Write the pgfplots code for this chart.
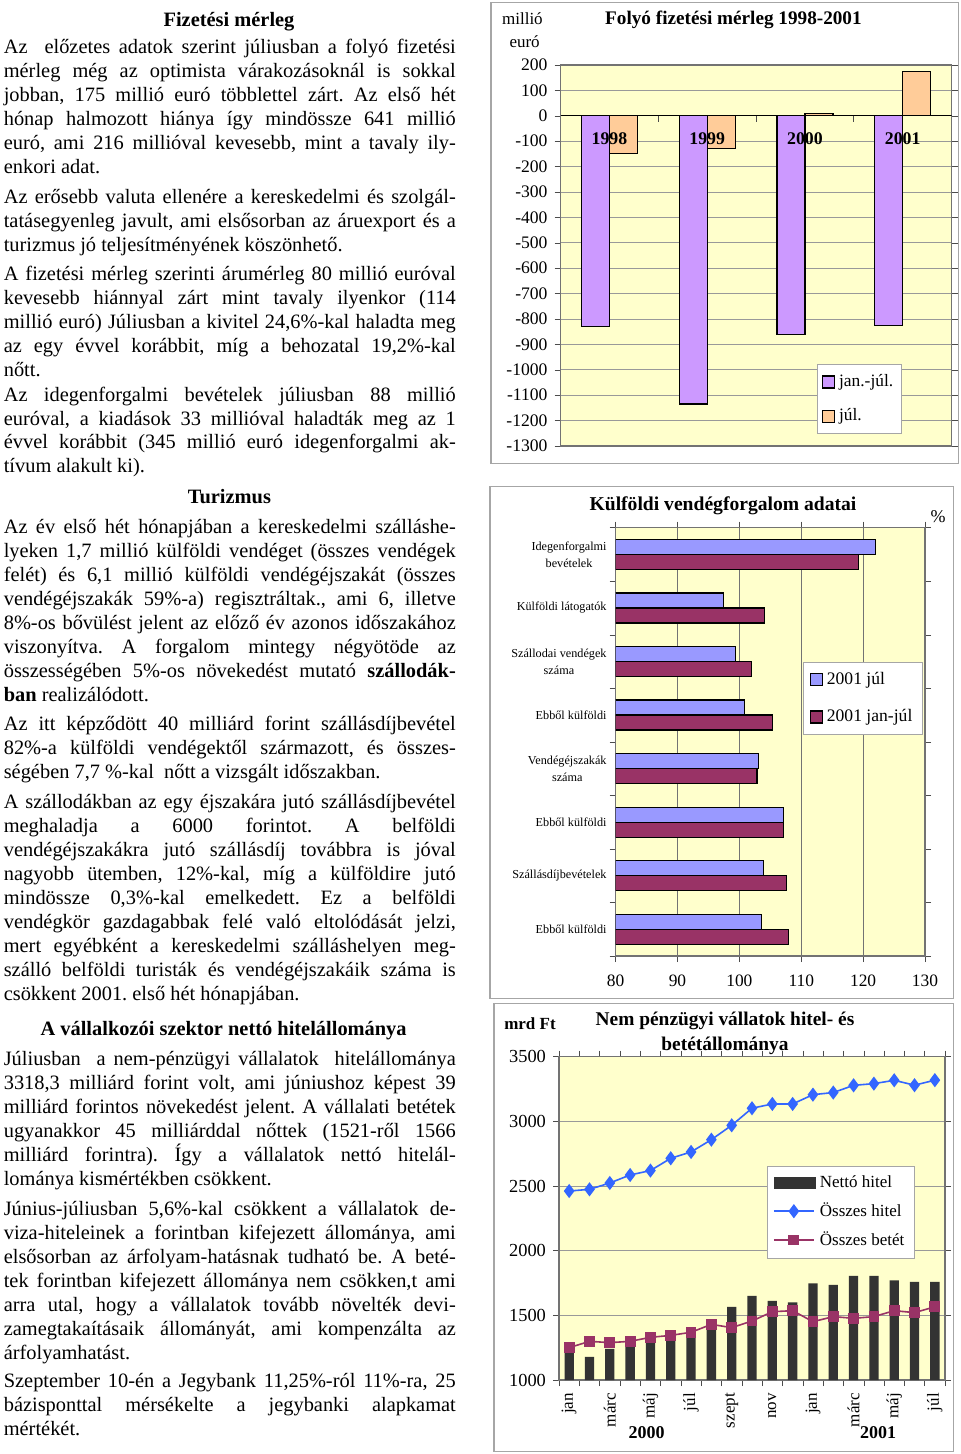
\documentclass[border=0pt]{standalone}
\usepackage{fontspec}
\setmainfont{Liberation Serif}
\usepackage{pgfplots}
\pgfplotsset{compat=1.18}
\definecolor{bgy}{HTML}{FFFFCC}
\definecolor{lila}{HTML}{CC99FF}
\definecolor{narancs}{HTML}{FFCC99}
\definecolor{kek}{HTML}{9999FF}
\definecolor{bordo}{HTML}{993366}
\definecolor{vkek}{HTML}{3366FF}
\definecolor{sotet}{HTML}{333333}
\definecolor{keret}{HTML}{A6A6A6}
\pgfplotsset{
  sqleg/.style={legend image code/.code={\draw[##1] (0pt,-3pt) rectangle (6pt,3pt);}},
  netleg/.style={legend image code/.code={\fill[sotet] (0pt,-3pt) rectangle (21pt,3pt);}},
  lineleg/.style={legend image code/.code={\draw[mark repeat=2,mark phase=2,##1] plot coordinates {(0pt,0pt) (10pt,0pt) (20pt,0pt)};}},
}
\newcommand{\JL}[2]{\node[anchor=base west,inner sep=0pt] at (1.7pt,-#1pt) {\makebox[226pt][s]{#2}};}
\newcommand{\LL}[2]{\node[anchor=base west,inner sep=0pt] at (1.7pt,-#1pt) {#2};}
\newcommand{\HD}[3]{\node[anchor=base,inner sep=0pt,font=\bfseries\fontsize{10.2}{12}\selectfont] at (#1pt,-#2pt) {#3};}
\hbadness=10000
\frenchspacing
\begin{document}
\begin{tikzpicture}[font=\fontsize{10.2}{12}\selectfont]
\path[use as bounding box, fill=white] (0,0) rectangle (480pt,-727pt);

% ---------------- left column text ----------------
\HD{114.5}{13.2}{Fizetési mérleg}
\JL{27}{Az~ előzetes adatok szerint júliusban a folyó fizetési}
\JL{39}{mérleg még az optimista várakozásoknál is sokkal}
\JL{51}{jobban, 175 millió euró többlettel zárt. Az első hét}
\JL{63}{hónap halmozott hiánya így mindössze 641 millió}
\JL{75}{euró, ami 216 millióval kevesebb, mint a tavaly ily-}
\LL{87}{enkori adat.}
\JL{102}{Az erősebb valuta ellenére a kereskedelmi és szolgál-}
\JL{114}{tatásegyenleg javult, ami elsősorban az áruexport és a}
\LL{126}{turizmus jó teljesítményének köszönhető.}
\JL{140.5}{A fizetési mérleg szerinti árumérleg 80 millió euróval}
\JL{152.5}{kevesebb hiánnyal zárt mint tavaly ilyenkor (114}
\JL{164.5}{millió euró) Júliusban a kivitel 24,6\%-kal haladta meg}
\JL{176.5}{az egy évvel korábbit, míg a behozatal 19,2\%-kal}
\LL{188.5}{nőtt.}
\JL{200.5}{Az idegenforgalmi bevételek júliusban 88 millió}
\JL{212.5}{euróval, a kiadások 33 millióval haladták meg az 1}
\JL{224.5}{évvel korábbit (345 millió euró idegenforgalmi ak-}
\LL{236.5}{tívum alakult ki).}
\HD{114.7}{251.5}{Turizmus}
\JL{266.5}{Az év első hét hónapjában a kereskedelmi szálláshe-}
\JL{278.5}{lyeken 1,7 millió külföldi vendéget (összes vendégek}
\JL{290.5}{felét) és 6,1 millió külföldi vendégéjszakát (összes}
\JL{302.5}{vendégéjszakák 59\%-a) regisztráltak., ami 6, illetve}
\JL{314.5}{8\%-os bővülést jelent az előző év azonos időszakához}
\JL{326.5}{viszonyítva. A forgalom mintegy négyötöde az}
\JL{338.5}{összességében 5\%-os növekedést mutató \textbf{szállodák-}}
\LL{350.5}{\textbf{ban} realizálódott.}
\JL{365}{Az itt képződött 40 milliárd forint szállásdíjbevétel}
\JL{377}{82\%-a külföldi vendégektől származott, és összes-}
\LL{389}{ségében 7,7 \%-kal~ nőtt a vizsgált időszakban.}
\JL{404}{A szállodákban az egy éjszakára jutó szállásdíjbevétel}
\JL{416}{meghaladja a 6000 forintot. A belföldi}
\JL{428}{vendégéjszakákra jutó szállásdíj továbbra is jóval}
\JL{440}{nagyobb ütemben, 12\%-kal, míg a külföldire jutó}
\JL{452}{mindössze 0,3\%-kal emelkedett. Ez a belföldi}
\JL{464}{vendégkör gazdagabbak felé való eltolódását jelzi,}
\JL{476}{mert egyébként a kereskedelmi szálláshelyen meg-}
\JL{488}{szálló belföldi turisták és vendégéjszakáik száma is}
\LL{500}{csökkent 2001. első hét hónapjában.}
\HD{111.8}{517.5}{A vállalkozói szektor nettó hitelállománya}
\JL{532.5}{Júliusban~ a nem-pénzügyi vállalatok~ hitelállománya}
\JL{544.5}{3318,3 milliárd forint volt, ami júniushoz képest 39}
\JL{556.5}{milliárd forintos növekedést jelent. A vállalati betétek}
\JL{568.5}{ugyanakkor 45 milliárddal nőttek (1521-ről 1566}
\JL{580.5}{milliárd forintra). Így a vállalatok nettó hitelál-}
\LL{592.5}{lománya kismértékben csökkent.}
\JL{607.5}{Június-júliusban 5,6\%-kal csökkent a vállalatok de-}
\JL{619.5}{viza-hiteleinek a forintban kifejezett állománya, ami}
\JL{631.5}{elsősorban az árfolyam-hatásnak tudható be. A beté-}
\JL{643.5}{tek forintban kifejezett állománya nem csökken,t ami}
\JL{655.5}{arra utal, hogy a vállalatok tovább növelték devi-}
\JL{667.5}{zamegtakaításaik állományát, ami kompenzálta az}
\LL{679.5}{árfolyamhatást.}
\JL{693.5}{Szeptember 10-én a Jegybank 11,25\%-ról 11\%-ra, 25}
\JL{705.5}{bázisponttal mérsékelte a jegybanki alapkamat}
\LL{717.5}{mértékét.}

% ---------------- chart 1 ----------------
\draw[keret, line width=0.8pt] (245.5pt,-1.3pt) rectangle (479.2pt,-231.7pt);
\node[font=\bfseries\fontsize{9.6}{11}\selectfont] at (366.7pt,-10pt) {Folyó fizetési mérleg 1998-2001};
\node[font=\fontsize{8.5}{10}\selectfont] at (261.2pt,-9.2pt) {millió};
\node[font=\fontsize{8.5}{10}\selectfont] at (262.3pt,-20.8pt) {euró};
\begin{axis}[
  at={(280.3pt,-223pt)}, anchor=south west,
  scale only axis, width=195.5pt, height=190.5pt,
  xmin=-0.5, xmax=3.5, ymin=-1300, ymax=200,
  axis background/.style={fill=bgy},
  axis line style={black!55, line width=0.6pt},
  xtick=\empty,
  ytick={-1300,-1200,...,200},
  yticklabels={-1300,-1200,-1100,-1000,-900,-800,-700,-600,-500,-400,-300,-200,-100,0,100,200},
  ymajorgrids, grid style={black!40, line width=0.4pt},
  tick align=outside, major tick length=3pt, tick style={black!70},
  yticklabel style={font=\fontsize{8.8}{10}\selectfont},
  ybar=0pt, bar width=14pt,
  legend style={at={(0.657,0.215)}, anchor=north west, draw=keret, fill=white,
    font=\fontsize{8.7}{10}\selectfont, inner xsep=2pt, inner ysep=3pt, row sep=5.5pt},
  legend cell align=left,
  sqleg,
]
\addplot[fill=lila, draw=black, line width=0.6pt] coordinates {(0,-830) (1,-1135) (2,-860) (3,-825)};
\addplot[fill=narancs, draw=black, line width=0.6pt] coordinates {(0,-150) (1,-130) (2,10) (3,175)};
\legend{jan.-júl., júl.}
\draw[black, line width=0.6pt] (axis cs:-0.5,0) -- (axis cs:3.5,0);
\draw[black!70] (axis cs:0.5,0) -- ++(0pt,-3pt);
\draw[black!70] (axis cs:1.5,0) -- ++(0pt,-3pt);
\draw[black!70] (axis cs:2.5,0) -- ++(0pt,-3pt);
\node[font=\bfseries\fontsize{8.9}{10}\selectfont] at (axis cs:0,-91) {1998};
\node[font=\bfseries\fontsize{8.9}{10}\selectfont] at (axis cs:1,-91) {1999};
\node[font=\bfseries\fontsize{8.9}{10}\selectfont] at (axis cs:2,-91) {2000};
\node[font=\bfseries\fontsize{8.9}{10}\selectfont] at (axis cs:3,-91) {2001};
\end{axis}

% ---------------- chart 2 ----------------
\draw[keret, line width=0.8pt] (245pt,-243.3pt) rectangle (476.7pt,-499.2pt);
\node[font=\bfseries\fontsize{9.8}{11}\selectfont] at (361.5pt,-253pt) {Külföldi vendégforgalom adatai};
\node[font=\fontsize{9}{10}\selectfont] at (469pt,-258.5pt) {\%};
\begin{axis}[
  at={(307.8pt,-478pt)}, anchor=south west,
  scale only axis, width=154.7pt, height=214.2pt,
  xmin=80, xmax=130, ymin=-0.5, ymax=7.5,
  axis background/.style={fill=bgy},
  axis line style={black!55, line width=0.6pt},
  xtick={80,90,...,130}, xticklabels={80,90,100,110,120,130},
  xmajorgrids, grid style={black!55, line width=0.5pt},
  ytick={-0.5,0.5,...,7.5}, y tick label as interval,
  yticklabels={Ebből külföldi, Szállásdíjbevételek, Ebből külföldi, {Vendégéjszakák\\száma}, Ebből külföldi, {Szállodai vendégek\\száma}, Külföldi látogatók, {Idegenforgalmi\\bevételek}},
  yticklabel style={align=center, font=\fontsize{6.1}{8.5}\selectfont, xshift=2pt},
  xticklabel style={font=\fontsize{8.7}{10}\selectfont, yshift=-3pt},
  tick align=outside, major tick length=3pt, tick style={black!70},
  bar width=7.5pt,
  legend style={at={(0.6065,0.687)}, anchor=north west, draw=keret, fill=white,
    font=\fontsize{8.8}{10}\selectfont, inner sep=3pt, row sep=7pt},
  legend cell align=left,
  sqleg,
]
\addplot[xbar, bar shift=3.75pt, fill=kek, draw=black, line width=0.6pt] coordinates {(103.6,0) (103.9,1) (107.1,2) (103.1,3) (100.8,4) (99.4,5) (97.4,6) (122.0,7)};
\addplot[xbar, bar shift=-3.75pt, fill=bordo, draw=black, line width=0.6pt] coordinates {(107.95,0) (107.6,1) (107.15,2) (102.85,3) (105.4,4) (101.9,5) (104.1,6) (119.2,7)};
\legend{2001 júl, 2001 jan-júl}
\end{axis}

% ---------------- chart 3 ----------------
\draw[keret, line width=0.8pt] (247pt,-501.7pt) rectangle (476.7pt,-725.8pt);
\node[font=\bfseries\fontsize{9.7}{11}\selectfont] at (362.5pt,-510.4pt) {Nem pénzügyi vállatok hitel- és};
\node[font=\bfseries\fontsize{9.7}{11}\selectfont] at (362.5pt,-522.8pt) {betétállománya};
\node[font=\bfseries\fontsize{8.5}{10}\selectfont] at (265pt,-512pt) {mrd Ft};
\begin{axis}[
  at={(279.5pt,-690pt)}, anchor=south west,
  scale only axis, width=193pt, height=161.7pt,
  xmin=-0.5, xmax=18.5, ymin=1000, ymax=3500,
  axis background/.style={fill=bgy},
  axis line style={black!55, line width=0.6pt},
  ytick={1000,1500,...,3500}, yticklabels={1000,1500,2000,2500,3000,3500},
  ymajorgrids, grid style={black!40, line width=0.4pt},
  xtick={-0.5,0.5,...,18.5}, x tick label as interval,
  xticklabels={jan,,márc,,máj,,júl,,szept,,nov,,jan,,márc,,máj,,júl},
  xticklabel style={rotate=90, anchor=east, font=\fontsize{8.5}{10}\selectfont},
  yticklabel style={font=\fontsize{9.2}{10}\selectfont},
  tick align=outside, major tick length=3pt, tick style={black!70},
  legend style={at={(0.538,0.663)}, anchor=north west, draw=keret, fill=white,
    font=\fontsize{8.5}{10}\selectfont, inner sep=3pt, row sep=2pt},
  legend cell align=left,
]
\addplot[ybar, bar width=4.65pt, bar shift=0pt, fill=sotet, draw=none, netleg] coordinates {
 (0,1208) (1,1178) (2,1240) (3,1258) (4,1292) (5,1320) (6,1330) (7,1410) (8,1566) (9,1650)
 (10,1612) (11,1600) (12,1748) (13,1736) (14,1806) (15,1806) (16,1770) (17,1759) (18,1759)};
\addplot[color=vkek, line width=0.8pt, mark=diamond*, mark size=2.9pt, mark options={fill=vkek, draw=vkek}, lineleg] coordinates {
 (0,2461) (1,2474) (2,2523) (3,2585) (4,2619) (5,2714) (6,2763) (7,2858) (8,2969) (9,3101)
 (10,3134) (11,3134) (12,3206) (13,3222) (14,3278) (15,3291) (16,3317) (17,3279) (18,3318)};
\addplot[color=bordo, line width=0.8pt, mark=square*, mark size=2.3pt, mark options={fill=bordo, draw=bordo}, lineleg] coordinates {
 (0,1250) (1,1299) (2,1289) (3,1299) (4,1330) (5,1345) (6,1369) (7,1430) (8,1405) (9,1456)
 (10,1528) (11,1536) (12,1451) (13,1490) (14,1477) (15,1490) (16,1536) (17,1521) (18,1566)};
\legend{Nettó hitel, Összes hitel, Összes betét}
\end{axis}
\node[font=\bfseries\fontsize{9}{10}\selectfont] at (323.3pt,-716.5pt) {2000};
\node[font=\bfseries\fontsize{9}{10}\selectfont] at (439pt,-716.5pt) {2001};
\end{tikzpicture}
\end{document}
